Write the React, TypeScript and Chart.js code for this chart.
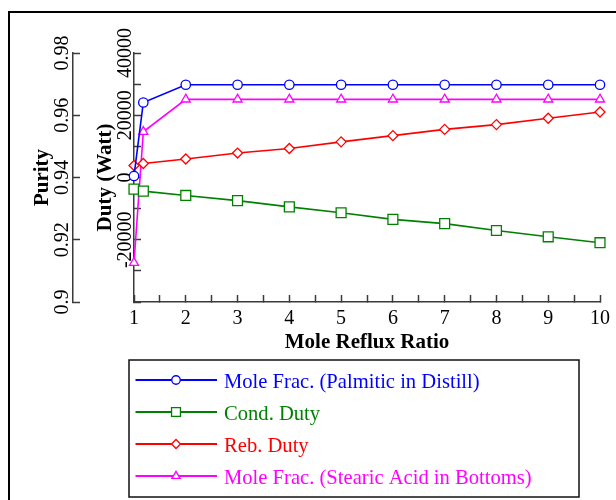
import React, { useEffect, useRef } from 'react';
import { Chart, registerables } from 'chart.js';

Chart.register(...registerables);

// ---- data ----
const refluxRatio = [1, 1.18, 2, 3, 4, 5, 6, 7, 8, 9, 10];
const palmiticInDistill = [0.9405, 0.9641, 0.9698, 0.9698, 0.9698, 0.9698, 0.9698, 0.9698, 0.9698, 0.9698, 0.9698];
const condDuty = [-3730, -4370, -5760, -7440, -9430, -11330, -13450, -14820, -17030, -19050, -20950];
const rebDuty = [3860, 4500, 5950, 7850, 9330, 11450, 13450, 15450, 17000, 19050, 21040];
const stearicInBottoms = [0.9126, 0.9547, 0.9651, 0.9651, 0.9651, 0.9651, 0.9651, 0.9651, 0.9651, 0.9651, 0.9651];
const seriesLabels = [
  'Mole Frac. (Palmitic in Distill)',
  'Cond. Duty',
  'Reb. Duty',
  'Mole Frac. (Stearic Acid in Bottoms)',
];
const xTitle = 'Mole Reflux Ratio';
const purityTitle = 'Purity';
const dutyTitle = 'Duty (Watt)';
const purityRange = [0.9, 0.98];
const purityStep = 0.02;
const dutyRange = [-40000, 40000];
const dutyStep = 10000;
const dutyLabelStep = 20000;
const xRange = [1, 10];
const xStep = 0.5;

const FAMILY = "'Liberation Serif', 'Times New Roman', Times, serif";
const COLORS = ['#0000ff', '#008000', '#ff0000', '#ff00ff'];
const STYLES = ['circle', 'rect', 'rectRot', 'triangle'];
const RADII = [4.7, 7, 5, 5.2];
const AXIS = '#3a3a3a';
const W = 616;
const H = 500;

function drawMarker(ctx: CanvasRenderingContext2D, style: string, x: number, y: number, r: number) {
  ctx.beginPath();
  if (style === 'circle') {
    ctx.arc(x, y, r, 0, Math.PI * 2);
  } else if (style === 'rect') {
    const s = r * Math.SQRT1_2;
    ctx.rect(x - s, y - s, 2 * s, 2 * s);
  } else if (style === 'rectRot') {
    ctx.moveTo(x - r, y);
    ctx.lineTo(x, y - r);
    ctx.lineTo(x + r, y);
    ctx.lineTo(x, y + r);
  } else {
    ctx.moveTo(x, y - r);
    ctx.lineTo(x + Math.sin((2 * Math.PI) / 3) * r, y - Math.cos((2 * Math.PI) / 3) * r);
    ctx.lineTo(x + Math.sin((4 * Math.PI) / 3) * r, y - Math.cos((4 * Math.PI) / 3) * r);
  }
  ctx.closePath();
  ctx.fillStyle = '#fff';
  ctx.fill();
  ctx.stroke();
}

const framePlugin = {
  id: 'frame',
  beforeDraw(chart: any) {
    const { ctx, width, height } = chart;
    ctx.save();
    ctx.fillStyle = '#fff';
    ctx.fillRect(0, 0, width, height);
    ctx.fillStyle = '#000';
    ctx.fillRect(8, 11, width, 2);
    ctx.fillRect(8, 11, 2, height);
    ctx.restore();
  },
};

const boxLegendPlugin = {
  id: 'boxLegend',
  afterDraw(chart: any) {
    const { ctx, chartArea } = chart;
    const xs = chart.scales.x;
    const left = chartArea.left - 5;
    const top = xs.bottom + 2;
    const width = 450;
    const height = 137;
    const rowH = 32;
    ctx.save();
    ctx.lineWidth = 1.5;
    ctx.strokeStyle = '#111';
    ctx.strokeRect(left, top, width, height);
    chart.data.datasets.forEach((ds: any, i: number) => {
      const y = top + 20 + i * rowH;
      ctx.strokeStyle = ds.borderColor;
      ctx.lineWidth = 1.8;
      ctx.beginPath();
      ctx.moveTo(left + 6.5, y);
      ctx.lineTo(left + 88, y);
      ctx.stroke();
      ctx.lineWidth = 1.3;
      drawMarker(ctx, ds.pointStyle, left + 47, y, ds.pointRadius * 0.9);
      ctx.fillStyle = ds.borderColor;
      ctx.font = `20.6px ${FAMILY}`;
      ctx.textAlign = 'left';
      ctx.textBaseline = 'middle';
      ctx.fillText(ds.label, left + 95, y + 2.5);
    });
    ctx.restore();
  },
};

export default function App() {
  const ref = useRef<HTMLCanvasElement>(null);
  useEffect(() => {
    document.documentElement.style.overflow = 'hidden';
    document.body.style.margin = '0';
    const canvas = ref.current!;
    const mctx = document.createElement('canvas').getContext('2d')!;
    mctx.font = `20px ${FAMILY}`;
    const widest = (labels: string[]) => Math.max(...labels.map((l) => mctx.measureText(l).width));

    const dutyLabel = (v: number) => (v % dutyLabelStep === 0 && v !== dutyRange[0] ? String(v) : '');
    const purityLabel = (v: number) => String(Number(v.toFixed(2)));
    const dutyLabels: string[] = [];
    for (let v = dutyRange[0]; v <= dutyRange[1]; v += dutyStep) dutyLabels.push(dutyLabel(v));
    const purityLabels: string[] = [];
    for (let v = purityRange[0]; v <= purityRange[1] + 1e-9; v += purityStep) purityLabels.push(purityLabel(v));
    const dutyPad = 8.5 + 7 - widest(dutyLabels) / 2;
    const purityPad = 10.5 + 7 - widest(purityLabels) / 2;

    const tickFont = { family: FAMILY, size: 20 };
    const titleFont = { family: FAMILY, size: 21, weight: 'bold' as const };
    const gridOpts = { drawOnChartArea: false, drawTicks: true, tickLength: -7, tickColor: AXIS, tickWidth: 1.5 };
    const borderOpts = { display: true, color: AXIS, width: 1.5 };

    const series = [palmiticInDistill, condDuty, rebDuty, stearicInBottoms];
    const axisIds = ['yP', 'yD', 'yD', 'yP'];

    const chart = new Chart(canvas, {
      type: 'line',
      data: {
        datasets: series.map((vals, i) => ({
          label: seriesLabels[i],
          data: refluxRatio.map((x, j) => ({ x, y: vals[j] })),
          yAxisID: axisIds[i],
          borderColor: COLORS[i],
          backgroundColor: '#fff',
          pointBackgroundColor: '#fff',
          pointBorderColor: COLORS[i],
          pointStyle: STYLES[i],
          pointRadius: RADII[i],
          pointBorderWidth: 1.3,
          borderWidth: 1.6,
          tension: 0,
          clip: false,
        })) as any,
      },
      options: {
        responsive: false,
        animation: false,
        events: [],
        layout: { padding: { left: 8, top: 53, right: 16, bottom: 142 } },
        plugins: { legend: { display: false }, tooltip: { enabled: false } },
        scales: {
          x: {
            type: 'linear',
            position: 'bottom',
            min: xRange[0],
            max: xRange[1],
            ticks: {
              stepSize: xStep,
              autoSkip: false,
              maxRotation: 0,
              font: tickFont,
              color: '#000',
              padding: 12,
              callback: (v: any) => (Number.isInteger(v) ? String(v) : ''),
            },
            grid: gridOpts,
            border: borderOpts,
            title: { display: true, text: xTitle, font: titleFont, color: '#000', padding: { top: 0, bottom: 3 } },
            afterFit: (s: any) => {
              s.height = 56;
              s.paddingLeft = 0;
              s.paddingRight = 0;
            },
          },
          yD: {
            type: 'linear',
            position: 'left',
            weight: 0,
            min: dutyRange[0],
            max: dutyRange[1],
            ticks: {
              stepSize: dutyStep,
              autoSkip: false,
              minRotation: 90,
              maxRotation: 90,
              crossAlign: 'center',
              padding: dutyPad,
              font: tickFont,
              color: '#000',
              callback: (v: any) => dutyLabel(v),
            },
            grid: gridOpts,
            border: borderOpts,
            title: { display: true, text: dutyTitle, font: titleFont, color: '#000', padding: { top: 19.5, bottom: 0 } },
            afterFit: (s: any) => { s.width = 61; },
          },
          yP: {
            type: 'linear',
            position: 'left',
            weight: 1,
            min: purityRange[0],
            max: purityRange[1],
            ticks: {
              stepSize: purityStep,
              autoSkip: false,
              minRotation: 90,
              maxRotation: 90,
              crossAlign: 'center',
              padding: purityPad,
              font: tickFont,
              color: '#000',
              callback: (v: any) => purityLabel(v),
            },
            grid: gridOpts,
            border: borderOpts,
            title: { display: true, text: purityTitle, font: titleFont, color: '#000', padding: { top: 21.5, bottom: 0 } },
            afterFit: (s: any) => { s.width = 65; },
          },
        },
      } as any,
      plugins: [framePlugin, boxLegendPlugin],
    });
    return () => chart.destroy();
  }, []);
  return <canvas ref={ref} width={W} height={H} style={{ display: 'block', width: W, height: H }} />;
}
